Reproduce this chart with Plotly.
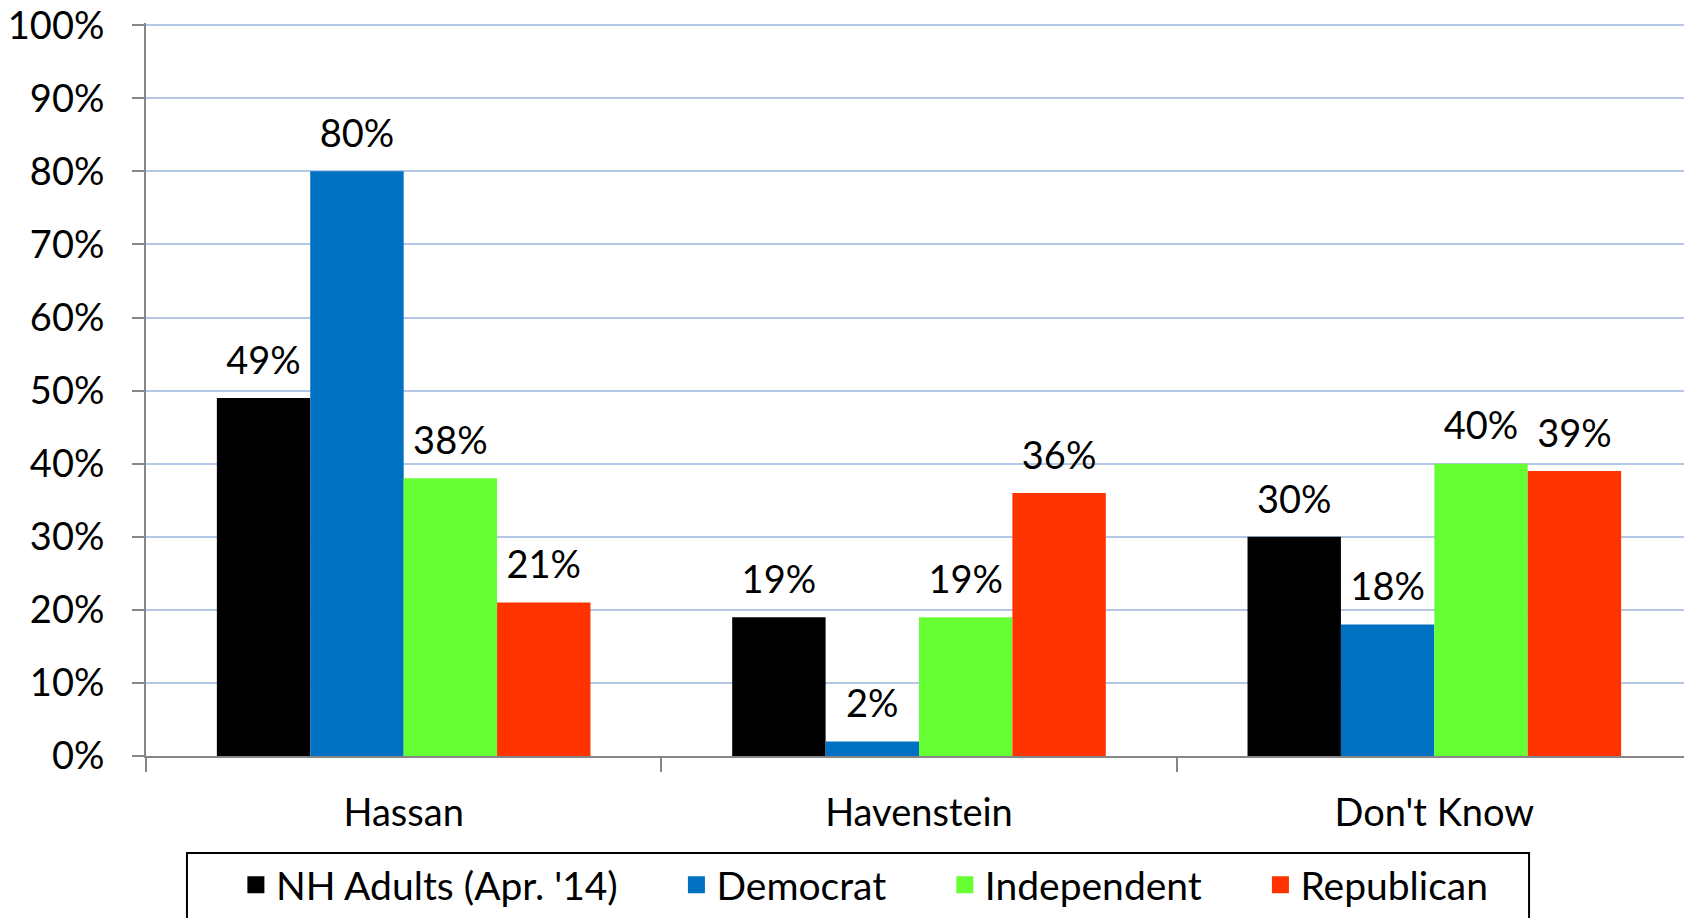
import plotly.graph_objects as go

categories = ["Hassan", "Havenstein", "Don't Know"]
series_names = ["NH Adults (Apr. '14)", "Democrat", "Independent", "Republican"]
nh_adults = [49, 19, 30]
democrat = [80, 2, 18]
independent = [38, 19, 40]
republican = [21, 36, 39]
colors = ["#000000", "#0070C0", "#66FF33", "#FF3300"]
y_ticks = list(range(0, 101, 10))

series_values = [nh_adults, democrat, independent, republican]
FONT = "Lato"
FS = 38
LFS = 39
GAP = 0.275

fig = go.Figure()
for i, (name, vals, col) in enumerate(zip(series_names, series_values, colors)):
    fig.add_trace(go.Bar(
        x=categories, y=vals, name=name, marker=dict(color=col, line=dict(width=0)),
        showlegend=False, hoverinfo="x+y", offsetgroup=str(i),
    ))
for i, (name, vals, col) in enumerate(zip(series_names, series_values, colors)):
    fig.add_trace(go.Scatter(
        x=categories, y=vals, mode="markers+text",
        text=[f"{v}%" for v in vals], textposition="top center",
        textfont=dict(family=FONT, size=FS, color="#000000"),
        marker=dict(size=22, opacity=0),
        showlegend=False, hoverinfo="skip", cliponaxis=False,
        offsetgroup=str(i),
    ))
# legend entries
pad = "\u2003\u2002\u2009"
pads = [pad, pad, pad, ""]
for i, (name, col) in enumerate(zip(series_names, colors)):
    fig.add_trace(go.Bar(
        x=[None], y=[None], name=name + pads[i],
        marker=dict(color=col, line=dict(color=col, width=5)),
        showlegend=True, offsetgroup=str(i),
    ))

fig.update_layout(
    width=1684, height=910,
    margin=dict(l=138, r=0, t=15, b=162, autoexpand=False),
    paper_bgcolor="white", plot_bgcolor="white",
    barmode="group", bargap=GAP, bargroupgap=0,
    scattermode="group", scattergap=GAP,
    font=dict(family=FONT, size=FS, color="#000000"),
    legend=dict(
        orientation="h", x=0.465, xanchor="center", y=-0.1323, yanchor="top",
        borderwidth=0, bgcolor="rgba(0,0,0,0)",
        font=dict(family=FONT, size=LFS, color="#000000"),
        itemclick=False,
    ),
    shapes=[dict(
        type="rect", xref="paper", yref="paper",
        x0=0.0265, x1=0.8946, y0=-0.226, y1=-0.1323,
        line=dict(color="#000000", width=2), fillcolor="rgba(0,0,0,0)", layer="below",
    )],
    xaxis=dict(
        type="category", showgrid=False, showline=True, linecolor="#868686", linewidth=2,
        ticks="outside", tickson="boundaries", ticklen=14, tickwidth=2, tickcolor="#868686",
        tickfont=dict(family=FONT, size=FS, color="#000000"), ticklabelstandoff=22,
        automargin=False,
    ),
    yaxis=dict(
        range=[0, 100.3], tickvals=y_ticks, ticktext=[f"{v}%" for v in y_ticks],
        showgrid=True, gridcolor="#B4C7E7", gridwidth=2, zeroline=False,
        showline=True, linecolor="#868686", linewidth=2,
        ticks="outside", ticklen=12, tickwidth=2, tickcolor="#868686",
        tickfont=dict(family=FONT, size=FS, color="#000000"), ticklabelstandoff=20,
        ticklabeloverflow="allow", automargin=False,
    ),
)

fig.write_html("out.html")
